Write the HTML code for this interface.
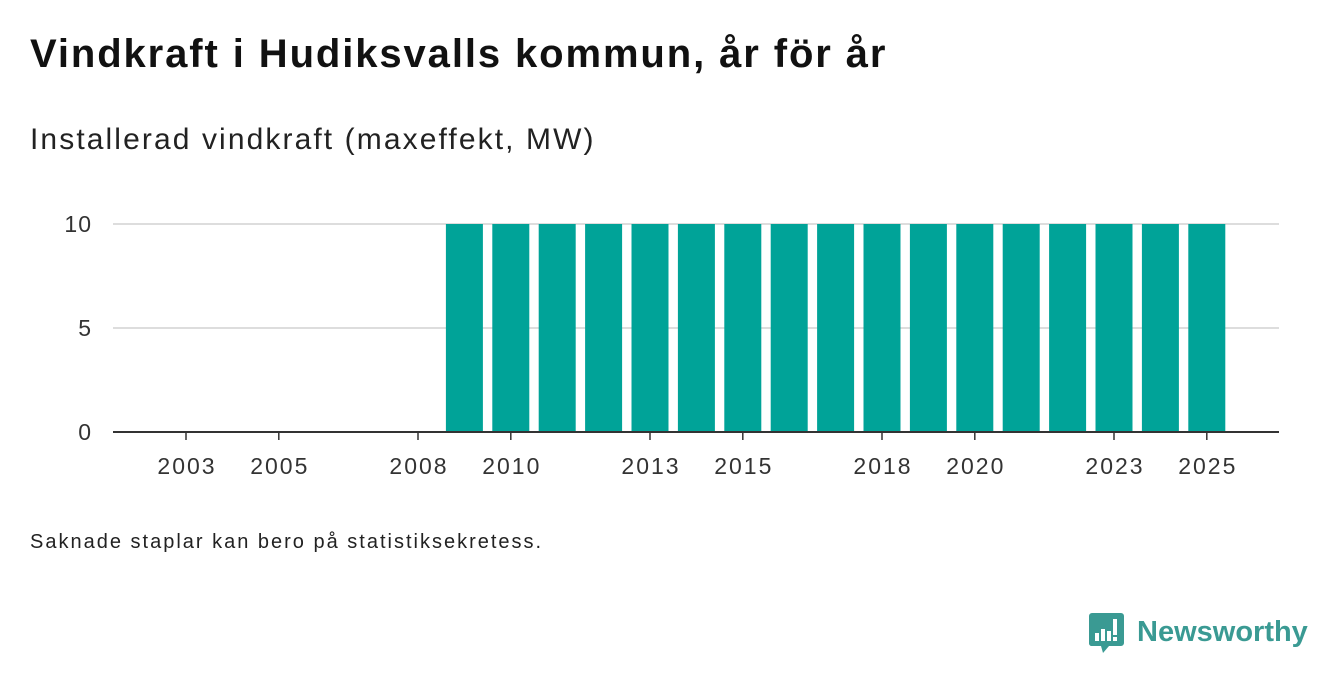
<!DOCTYPE html>
<html><head><meta charset="utf-8"><style>
body{margin:0;width:1340px;height:685px;background:#fff;font-family:"Liberation Sans",sans-serif;overflow:hidden;position:relative}
.t{position:absolute;white-space:nowrap;color:#1a1a1a}
</style></head><body>
<div class="t" style="left:30px;top:32px;font-size:40px;font-weight:bold;color:#111;letter-spacing:1.9px">Vindkraft i Hudiksvalls kommun, år för år</div>
<div class="t" style="left:30px;top:123px;font-size:30px;color:#222;letter-spacing:2.1px">Installerad vindkraft (maxeffekt, MW)</div>
<div class="t" style="left:30px;top:531px;font-size:20px;color:#222;letter-spacing:2px">Saknade staplar kan bero på statistiksekretess.</div>
<div style="position:absolute;left:1089px;top:613px;">
<svg width="220" height="44"><path d="M2 0h30a3 3 0 0 1 3 3v27a3 3 0 0 1-3 3H20l-6 7-2-7H2a3 3 0 0 1-2-3V3a3 3 0 0 1 3-3z" fill="#3a9a93"/>
<rect x="6" y="20" width="4" height="8" fill="#fff"/><rect x="12" y="16" width="4" height="12" fill="#fff"/><rect x="18" y="18" width="4" height="10" fill="#fff"/><rect x="24" y="6" width="4" height="16" fill="#fff"/><rect x="24" y="24" width="4" height="4" fill="#fff"/>
<text x="48" y="28" font-family="Liberation Sans" font-weight="bold" font-size="29" fill="#3a9a93">Newsworthy</text></svg></div>
<svg id="c" width="1340" height="685" style="position:absolute;left:0;top:0"></svg>
<script>
const years=[2003,2004,2005,2006,2007,2008,2009,2010,2011,2012,2013,2014,2015,2016,2017,2018,2019,2020,2021,2022,2023,2024,2025];
const values=[0,0,0,0,0,0,10,10,10,10,10,10,10,10,10,10,10,10,10,10,10,10,10];
const yTicks=[0,5,10];
const xTickLabels=[2003,2005,2008,2010,2013,2015,2018,2020,2023,2025];
const ns="http://www.w3.org/2000/svg",svg=document.getElementById('c');
const x=y=>186+(y-2003)*46.4, yy=v=>432-v*20.8;
function mk(t,a){const e=document.createElementNS(ns,t);for(const k in a)e.setAttribute(k,a[k]);svg.appendChild(e);return e;}
yTicks.forEach(v=>{
 if(v>0){const g=mk('line',{x1:113,x2:1279,y1:yy(v),y2:yy(v),stroke:'#ddd','stroke-width':2});
 
 }
 const t=mk('text',{x:92,y:yy(v)+8,'text-anchor':'end','font-size':23,fill:'#333','font-family':'Liberation Sans','letter-spacing':1});t.textContent=v;
 
 
});
years.forEach((yr,i)=>{if(values[i]>0){const r=mk('rect',{x:x(yr)-18.5,y:yy(values[i]),width:37,height:432-yy(values[i]),fill:'#00a398'});
 
 }});
const ax=mk('line',{x1:113,x2:1279,y1:432,y2:432,stroke:'#333','stroke-width':2});


xTickLabels.forEach(yr=>{mk('line',{x1:x(yr),x2:x(yr),y1:432,y2:440,stroke:'#333','stroke-width':1.5});
 const t=mk('text',{x:x(yr)+1,y:474,'text-anchor':'middle','font-size':23,fill:'#333','font-family':'Liberation Sans','letter-spacing':2});t.textContent=yr;
 
 });
</script>
</body></html>
